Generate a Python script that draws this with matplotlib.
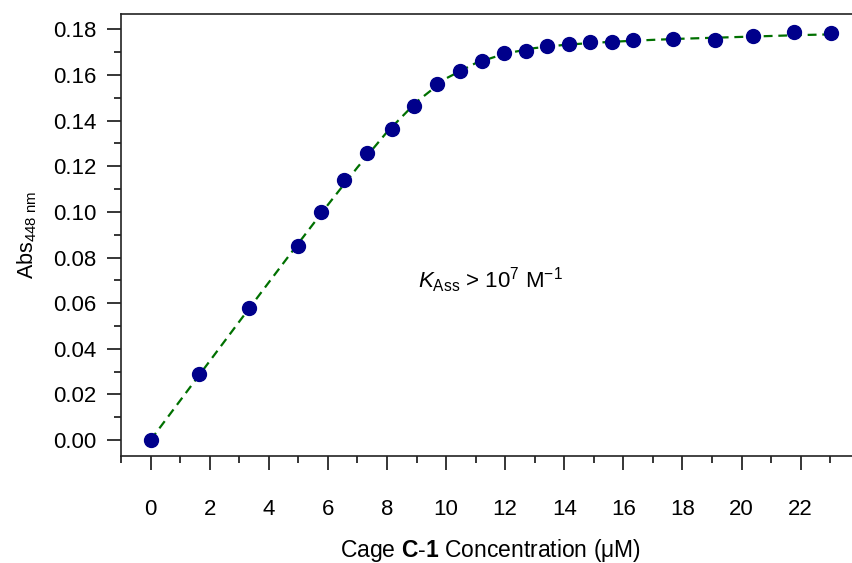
import matplotlib
matplotlib.use("Agg")
import matplotlib.pyplot as plt
from matplotlib.ticker import MultipleLocator, FormatStrFormatter

plt.rcParams['font.family'] = ['Liberation Sans', 'DejaVu Sans']
plt.rcParams['mathtext.fontset'] = 'custom'
plt.rcParams['mathtext.rm'] = 'Liberation Sans'
plt.rcParams['mathtext.it'] = 'Liberation Sans:italic'
plt.rcParams['mathtext.bf'] = 'Liberation Sans:bold'

# mesures (points bleus)
conc_uM = [0.0, 1.64, 3.33, 4.98, 5.78, 6.56, 7.34, 8.16, 8.91, 9.68, 10.47, 11.2,
           11.96, 12.69, 13.42, 14.17, 14.88, 15.61, 16.33, 17.68, 19.1, 20.39, 21.76, 23.03]
abs_448 = [0.0, 0.0289, 0.058, 0.0849, 0.0998, 0.1141, 0.1259, 0.1364, 0.1466, 0.1562, 0.1617, 0.1661,
           0.1697, 0.1707, 0.1729, 0.1736, 0.1745, 0.1745, 0.1754, 0.1758, 0.1754, 0.1769, 0.1789, 0.1783]

# courbe d'ajustement (tirets verts)
fit_x = [0, 1, 2, 3, 4, 5, 6, 7, 8, 9, 10, 11, 12, 13, 14, 15, 16, 17, 18, 19, 20, 21, 22, 23]
fit_y = [0.0, 0.0173, 0.0346, 0.0519, 0.0691, 0.0862, 0.1031, 0.1195, 0.1350, 0.1482, 0.1585, 0.1652,
         0.1694, 0.1718, 0.1732, 0.1741, 0.1748, 0.1754, 0.1759, 0.1763, 0.1767, 0.1771, 0.1775, 0.1778]

x_ticks = [0, 2, 4, 6, 8, 10, 12, 14, 16, 18, 20, 22]
y_ticks = [0.00, 0.02, 0.04, 0.06, 0.08, 0.10, 0.12, 0.14, 0.16, 0.18]

fig = plt.figure(figsize=(8.53, 5.63), dpi=100)
ax = fig.add_axes([0.1419, 0.190, 0.866, 0.785])

ax.plot(fit_x, fit_y, linestyle=(0, (4, 2.6)), color='#007000', linewidth=1.6, zorder=2)
ax.plot(conc_uM, abs_448, linestyle='none', marker='o', markersize=10,
        markerfacecolor='#00008b', markeredgecolor='#00008b', zorder=3)

ax.set_xlim(-1, 24)
ax.set_ylim(-0.007, 0.1867)
ax.set_xticks(x_ticks)
ax.set_yticks(y_ticks)
ax.xaxis.set_minor_locator(MultipleLocator(1))
ax.yaxis.set_minor_locator(MultipleLocator(0.01))
ax.yaxis.set_major_formatter(FormatStrFormatter('%.2f'))

ax.tick_params(axis='both', which='major', direction='out', length=10, width=1.1, labelsize=16)
ax.tick_params(axis='both', which='minor', direction='out', length=5, width=1.1)
ax.tick_params(axis='x', which='major', pad=21)
ax.tick_params(axis='y', which='major', pad=8)

for sp in ax.spines.values():
    sp.set_linewidth(1.2)
    sp.set_color('#222222')

ax.set_xlabel('Cage $\\mathbf{C}$-$\\mathbf{1}$ Concentration (μM)', fontsize=16.5, labelpad=12)
ax.set_ylabel('Abs$_{\\mathregular{448\\ nm}}$', fontsize=15.5, labelpad=10)

ax.text(0.402, 0.398, '$K_{\\mathregular{Ass}}$ > 10$^{7}$ M$^{-1}$', transform=ax.transAxes,
        fontsize=16, ha='left', va='center')

fig.savefig('out.png', dpi=100)
